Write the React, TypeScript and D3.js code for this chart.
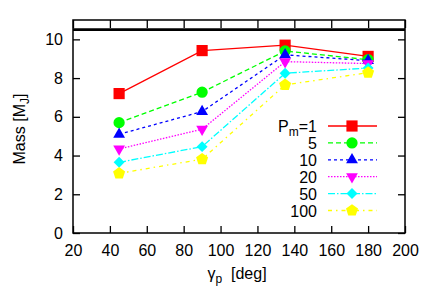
import { useEffect, useRef } from "react";
import * as d3 from "d3";

const gamma = [45, 90, 135, 180];
const periods = ["1", "5", "10", "20", "50", "100"];
const massPm1 = [7.2, 9.42, 9.7, 9.12];
const massPm5 = [5.7, 7.27, 9.4, 8.95];
const massPm10 = [5.1, 6.27, 9.2, 8.9];
const massPm20 = [4.34, 5.36, 8.85, 8.75];
const massPm50 = [3.65, 4.46, 8.25, 8.52];
const massPm100 = [3.08, 3.81, 7.65, 8.28];
const xTicks = [20, 40, 60, 80, 100, 120, 140, 160, 180, 200];
const yTicks = [0, 2, 4, 6, 8, 10];
const limitMass = 10.5;

const W = 436;
const H = 305;
const FONT = "'Liberation Sans', Arial, sans-serif";

const pentagon = {
  draw(ctx: any, size: number) {
    const r = Math.sqrt(size / 2.378);
    for (let i = 0; i < 5; i++) {
      const a = -Math.PI / 2 + (i * 2 * Math.PI) / 5;
      const px = r * Math.cos(a);
      const py = r * Math.sin(a);
      if (i === 0) ctx.moveTo(px, py);
      else ctx.lineTo(px, py);
    }
    ctx.closePath();
  },
};

const styles = [
  { color: "#ff0000", dash: "none", sym: d3.symbolSquare, size: 125, rot: 0 },
  { color: "#00ff00", dash: "5,3", sym: d3.symbolCircle, size: 100, rot: 0 },
  { color: "#0000ff", dash: "3,3", sym: d3.symbolTriangle, size: 60, rot: 0 },
  { color: "#ff00ff", dash: "1.5,1.5", sym: d3.symbolTriangle, size: 60, rot: 180 },
  { color: "#00ffff", dash: "7,2,1.5,2", sym: d3.symbolSquare, size: 60, rot: 45 },
  { color: "#ffff00", dash: "4,4,1.5,4", sym: pentagon, size: 95, rot: 0 },
];

export default function App() {
  const ref = useRef<HTMLDivElement | null>(null);

  useEffect(() => {
    if (!ref.current) return;
    d3.select(ref.current).selectAll("svg").remove();

    const series = [massPm1, massPm5, massPm10, massPm20, massPm50, massPm100];

    const svg = d3
      .select(ref.current)
      .append("svg")
      .attr("width", W)
      .attr("height", H)
      .style("position", "absolute")
      .style("left", "0px")
      .style("top", "0px")
      .style("font-family", FONT)
      .style("background", "#fff");

    const x = d3.scaleLinear([20, 200], [73, 405]);
    const y = d3.scaleLinear([0, 11], [233, 20]);

    // ticks (inward, mirrored)
    const styleAxis = (g: any) => {
      g.select(".domain").remove();
      g.selectAll("line").attr("stroke", "#000").attr("stroke-width", 1.3);
      g.selectAll("text")
        .attr("font-size", 16)
        .attr("font-family", FONT)
        .attr("fill", "#000");
    };

    svg
      .append("g")
      .attr("transform", `translate(0,${y(0)})`)
      .call(d3.axisBottom(x).tickValues(xTicks).tickSizeInner(-7).tickSizeOuter(0).tickPadding(12))
      .call(styleAxis);
    svg
      .append("g")
      .attr("transform", `translate(0,${y(11)})`)
      .call(d3.axisTop(x).tickValues(xTicks).tickSizeInner(-8).tickSizeOuter(0).tickFormat(() => ""))
      .call(styleAxis);
    svg
      .append("g")
      .attr("transform", `translate(${x(20)},0)`)
      .call(d3.axisLeft(y).tickValues(yTicks).tickSizeInner(-7).tickSizeOuter(0).tickPadding(10))
      .call(styleAxis);
    svg
      .append("g")
      .attr("transform", `translate(${x(200)},0)`)
      .call(d3.axisRight(y).tickValues(yTicks).tickSizeInner(-7).tickSizeOuter(0).tickFormat(() => ""))
      .call(styleAxis);

    // frame
    svg
      .append("rect")
      .attr("x", x(20))
      .attr("y", y(11))
      .attr("width", x(200) - x(20))
      .attr("height", y(0) - y(11))
      .attr("fill", "none")
      .attr("stroke", "#000")
      .attr("stroke-width", 1.5);

    // limit line
    svg
      .append("line")
      .attr("x1", x(20))
      .attr("x2", x(200))
      .attr("y1", y(limitMass))
      .attr("y2", y(limitMass))
      .attr("stroke", "#000")
      .attr("stroke-width", 2.8);

    const line = d3
      .line<number>()
      .x((_, i) => x(gamma[i]))
      .y((d) => y(d));

    series.forEach((vals, k) => {
      const s = styles[k];
      const g = svg.append("g");
      g.append("path")
        .attr("d", line(vals))
        .attr("fill", "none")
        .attr("stroke", s.color)
        .attr("stroke-width", 1.3)
        .attr("stroke-dasharray", s.dash);
      g.selectAll("path.pt")
        .data(vals)
        .join("path")
        .attr("class", "pt")
        .attr("d", d3.symbol(s.sym as any, s.size)())
        .attr("transform", (d, i) => `translate(${x(gamma[i])},${y(d)}) rotate(${s.rot})`)
        .attr("fill", s.color);
    });

    // legend
    const leg = svg.append("g");
    periods.forEach((p, k) => {
      const s = styles[k];
      const ly = 126 + k * 16.9;
      const t = leg
        .append("text")
        .attr("x", 317)
        .attr("y", ly + 6)
        .attr("text-anchor", "end")
        .attr("font-size", 16)
        .attr("fill", "#000");
      if (k === 0) {
        t.append("tspan").text("P");
        t.append("tspan").text("m").attr("font-size", 12).attr("dy", 4);
        t.append("tspan").text("=" + p).attr("dy", -4);
      } else {
        t.text(p);
      }
      leg
        .append("line")
        .attr("x1", 328)
        .attr("x2", 377)
        .attr("y1", ly)
        .attr("y2", ly)
        .attr("stroke", s.color)
        .attr("stroke-width", 1.3)
        .attr("stroke-dasharray", s.dash);
      leg
        .append("path")
        .attr("d", d3.symbol(s.sym as any, s.size)())
        .attr("transform", `translate(352,${ly}) rotate(${s.rot})`)
        .attr("fill", s.color);
    });

    // axis titles
    const yl = svg
      .append("text")
      .attr("transform", `translate(25,129) rotate(-90)`)
      .attr("text-anchor", "middle")
      .attr("font-size", 16)
      .attr("fill", "#000");
    yl.append("tspan").text("Mass [M");
    yl.append("tspan").text("J").attr("font-size", 12).attr("dy", 4);
    yl.append("tspan").text("]").attr("dy", -4);

    const xl = svg
      .append("text")
      .attr("x", 237)
      .attr("y", 279)
      .attr("text-anchor", "middle")
      .attr("font-size", 16)
      .attr("fill", "#000")
      .attr("xml:space", "preserve");
    xl.append("tspan").text("γ");
    xl.append("tspan").text("p").attr("font-size", 12).attr("dy", 4);
    xl.append("tspan").text("  [deg]").attr("dy", -4);
  }, []);

  return <div ref={ref} />;
}
